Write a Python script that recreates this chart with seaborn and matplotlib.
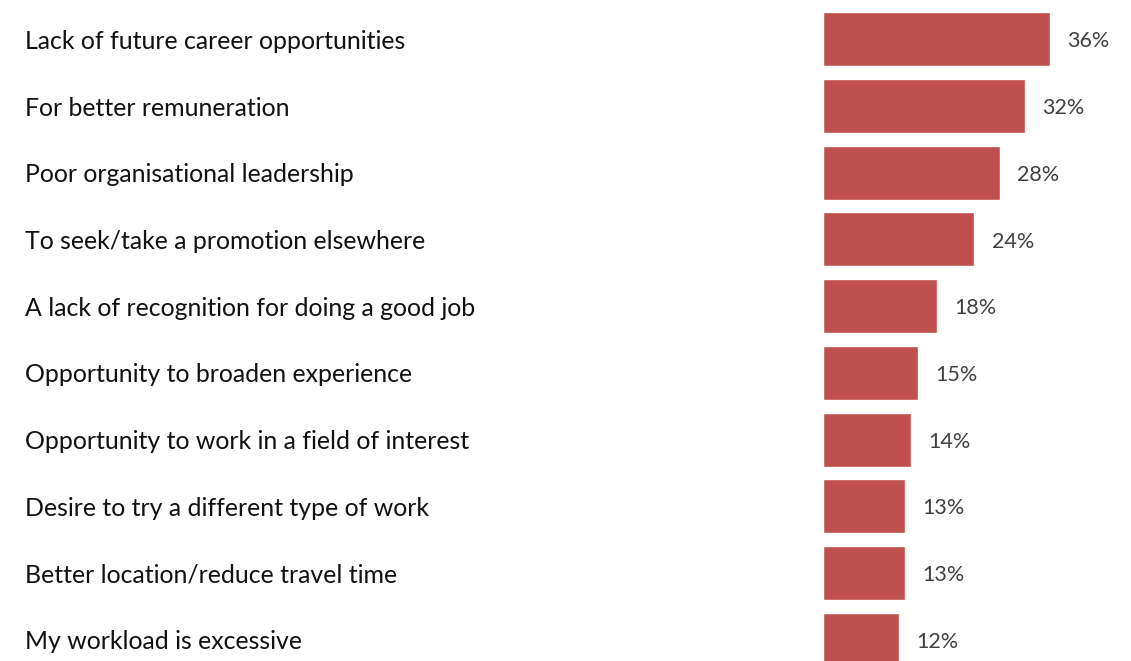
import matplotlib
matplotlib.use("Agg")
import matplotlib.pyplot as plt
import matplotlib.transforms as mtransforms
import pandas as pd
import seaborn as sns

reasons = [
    "Lack of future career opportunities",
    "For better remuneration",
    "Poor organisational leadership",
    "To seek/take a promotion elsewhere",
    "A lack of recognition for doing a good job",
    "Opportunity to broaden experience",
    "Opportunity to work in a field of interest",
    "Desire to try a different type of work",
    "Better location/reduce travel time",
    "My workload is excessive",
]
shares = [36, 32, 28, 24, 18, 15, 14, 13, 13, 12]

df = pd.DataFrame({"reason": reasons, "share": shares})

sns.set_theme(style="white")
plt.rcParams["font.family"] = ["Lato", "DejaVu Sans"]

W, H = 1131, 661
fig = plt.figure(figsize=(W / 100, H / 100), dpi=100)
ax = fig.add_axes([823 / W, 0, (W - 823) / W, 1])

sns.barplot(data=df, y="reason", x="share", orient="h", color="#C0504D",
            saturation=1, width=0.81, ax=ax)

ax.set_xlim(0, (W - 823) / 6.31)
ax.set_ylim(9.32, -0.59)
ax.set_xlabel("")
ax.set_ylabel("")
ax.set_xticks([])
ax.set_yticks([])
for s in ax.spines.values():
    s.set_visible(False)

# category labels, left-aligned near the figure edge
trans = mtransforms.blended_transform_factory(fig.transFigure, ax.transData)
shift = mtransforms.ScaledTranslation(0, -2 / 100, fig.dpi_scale_trans)
for i, r in enumerate(reasons):
    ax.text(25 / W, i, r, transform=trans + shift, ha="left", va="center",
            fontsize=17.9, color="#111111", clip_on=False)

# value labels after each bar
for i, v in enumerate(shares):
    ax.annotate(f"{v}%", xy=(v, i), xytext=(12.5, -1.5), textcoords="offset points",
                ha="left", va="center", fontsize=15.5, color="#404040")

fig.savefig("out.png", dpi=100)
